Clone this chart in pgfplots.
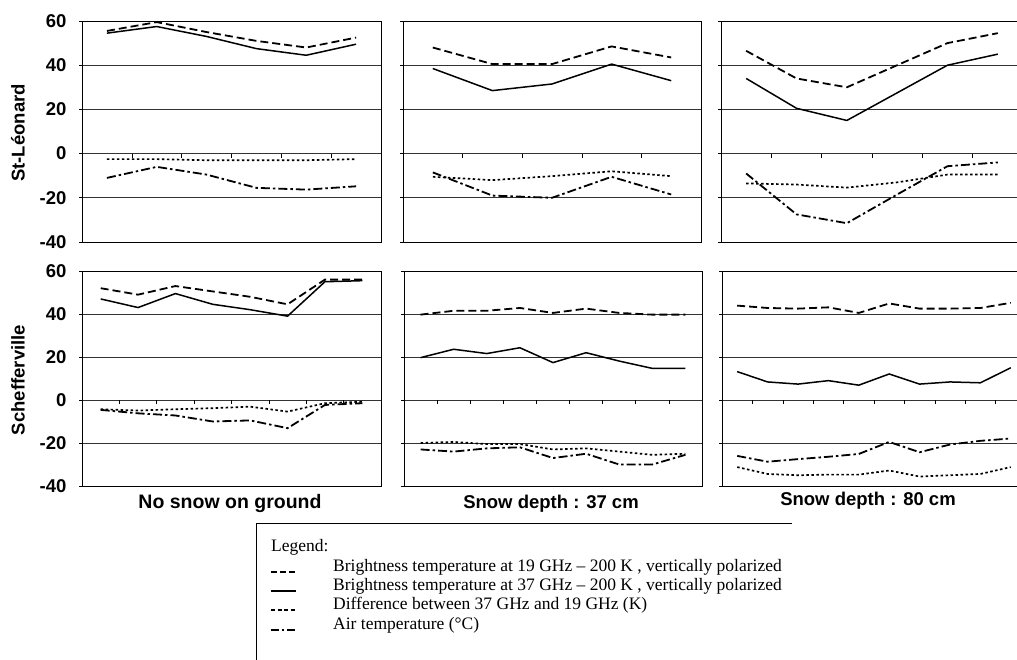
\documentclass[border=0pt]{standalone}
\usepackage{fontspec}
\setmainfont{Liberation Sans}
\newfontfamily\legfont[Ligatures=TeX]{Liberation Serif}
\usepackage{pgfplots}
\pgfplotsset{compat=1.18}
\tikzset{zt/.style={black, line width=0.6pt}}

\pgfplotsset{
  panel/.style={
    scale only axis,
    ymin=-40, ymax=60,
    ytick={-40,-20,0,20,40,60},
    yticklabels={},
    ymajorgrids,
    grid style={black!80, line width=0.6pt},
    xtick=\empty,
    axis line style={black, line width=0.7pt},
    tick style={black, line width=0.6pt},
    ytick pos=left,
    tick align=outside,
    major tick length=3pt,
    clip=false,
  },
  lefty/.style={
    yticklabels={-40,-20,0,20,40,60},
    yticklabel style={font=\fontsize{18.5}{20}\selectfont\bfseries, xshift=-9pt},
  },
  s19/.style={black, line width=1.8pt, dash pattern=on 8pt off 4pt},
  s37/.style={black, line width=1.5pt},
  sdiff/.style={black, line width=1.7pt, dash pattern=on 2.5pt off 2.5pt},
  sair/.style={black, line width=1.8pt, dash pattern=on 9pt off 3pt on 2.5pt off 3pt},
}

\begin{document}
\begin{tikzpicture}
\useasboundingbox (0,0) rectangle (1017pt,659pt);

% ---------- St-Leonard, no snow ----------
\begin{axis}[panel, lefty, at={(82pt,417pt)}, anchor=south west,
  width=299pt, height=221pt, xmin=0.5, xmax=6.5]
\addplot[s19] coordinates {(1,55.5) (2,59.5) (3,55) (4,51) (5,48) (6,52.5)};
\addplot[s37] coordinates {(1,54.5) (2,57.5) (3,53) (4,47.5) (5,44.5) (6,49.5)};
\addplot[sdiff] coordinates {(1,-2.5) (2,-2.5) (3,-3) (4,-3) (5,-3) (6,-2.5)};
\addplot[sair] coordinates {(1,-11) (2,-6) (3,-9.5) (4,-15.5) (5,-16.3) (6,-14.8)};
\pgfplotsinvokeforeach{1.5,2.5,3.5,4.5,5.5}{\draw[zt] (axis cs:#1,0) -- (axis cs:#1,-1.8);}
\end{axis}

% ---------- St-Leonard, 37 cm ----------
\begin{axis}[panel, at={(403pt,417pt)}, anchor=south west,
  width=298pt, height=221pt, xmin=0.5, xmax=5.5]
\addplot[s19] coordinates {(1,48) (2,40.5) (3,40.5) (4,48.5) (5,43.5)};
\addplot[s37] coordinates {(1,38.5) (2,28.5) (3,31.5) (4,40.5) (5,33)};
\addplot[sdiff] coordinates {(1,-10.5) (2,-12) (3,-10.2) (4,-8) (5,-10.2)};
\addplot[sair] coordinates {(1,-8.5) (2,-19) (3,-20) (4,-10.5) (5,-18.5)};
\pgfplotsinvokeforeach{1.5,2.5,3.5,4.5}{\draw[zt] (axis cs:#1,0) -- (axis cs:#1,-1.8);}
\end{axis}

% ---------- St-Leonard, 80 cm ----------
\begin{axis}[panel, at={(721pt,417pt)}, anchor=south west,
  width=302pt, height=221pt, xmin=0.5, xmax=6.5]
\addplot[s19] coordinates {(1,46.5) (2,34) (3,30) (4,40) (5,50) (6,54.5)};
\addplot[s37] coordinates {(1,34) (2,20.5) (3,15) (4,27.5) (5,40) (6,45)};
\addplot[sdiff] coordinates {(1,-13.5) (2,-14) (3,-15.4) (4,-13) (5,-9.5) (6,-9.5)};
\addplot[sair] coordinates {(1,-9) (2,-27.5) (3,-31.5) (4,-18.5) (5,-5.7) (6,-4)};
\pgfplotsinvokeforeach{1.5,2.5,3.5,4.5,5.5}{\draw[zt] (axis cs:#1,0) -- (axis cs:#1,-1.8);}
\end{axis}

% ---------- Schefferville, no snow ----------
\begin{axis}[panel, lefty, at={(82pt,173pt)}, anchor=south west,
  width=299pt, height=215pt, xmin=0.5, xmax=8.5]
\addplot[s19] coordinates {(1,52) (2,49) (3,53) (4,50.5) (5,48) (6,44.5) (7,56) (8,56)};
\addplot[s37] coordinates {(1,47) (2,43) (3,49.5) (4,44.5) (5,42) (6,39) (7,55) (8,55.5)};
\addplot[sdiff] coordinates {(1,-4.3) (2,-4.9) (3,-4.3) (4,-3.8) (5,-3.1) (6,-5.4) (7,-1.5) (8,-0.8)};
\addplot[sair] coordinates {(1,-4.6) (2,-6.2) (3,-7.2) (4,-10) (5,-9.5) (6,-13.1) (7,-2.3) (8,-1.5)};
\pgfplotsinvokeforeach{1.5,2.5,3.5,4.5,5.5,6.5,7.5}{\draw[zt] (axis cs:#1,0) -- (axis cs:#1,-1.8);}
\end{axis}

% ---------- Schefferville, 37 cm ----------
\begin{axis}[panel, at={(404pt,173pt)}, anchor=south west,
  width=298pt, height=215pt, xmin=0.5, xmax=9.5]
\addplot[s19] coordinates {(1,39.7) (2,41.5) (3,41.5) (4,42.8) (5,40.5) (6,42.5) (7,40.5) (8,39.7) (9,39.7)};
\addplot[s37] coordinates {(1,19.7) (2,23.6) (3,21.6) (4,24.3) (5,17.4) (6,22) (7,18.1) (8,14.7) (9,14.7)};
\addplot[sdiff] coordinates {(1,-20) (2,-19.5) (3,-20.5) (4,-20.5) (5,-23) (6,-22.5) (7,-24) (8,-25.5) (9,-25)};
\addplot[sair] coordinates {(1,-23) (2,-24) (3,-22.5) (4,-22) (5,-27) (6,-25) (7,-30) (8,-30) (9,-25.5)};
\pgfplotsinvokeforeach{1.5,2.5,3.5,4.5,5.5,6.5,7.5,8.5}{\draw[zt] (axis cs:#1,0) -- (axis cs:#1,-1.8);}
\end{axis}

% ---------- Schefferville, 80 cm ----------
\begin{axis}[panel, at={(722pt,173pt)}, anchor=south west,
  width=304pt, height=215pt, xmin=0.5, xmax=10.5]
\addplot[s19] coordinates {(1,43.9) (2,42.8) (3,42.5) (4,43.1) (5,40.5) (6,44.9) (7,42.5) (8,42.5) (9,42.8) (10,45.2)};
\addplot[s37] coordinates {(1,13.2) (2,8.4) (3,7.4) (4,9) (5,6.9) (6,12.1) (7,7.4) (8,8.4) (9,8) (10,15)};
\addplot[sdiff] coordinates {(1,-31.2) (2,-34.4) (3,-35) (4,-34.7) (5,-34.7) (6,-32.8) (7,-35.6) (8,-35) (9,-34.4) (10,-31.2)};
\addplot[sair] coordinates {(1,-26) (2,-28.7) (3,-27.5) (4,-26.4) (5,-25.1) (6,-19.5) (7,-24.3) (8,-20.7) (9,-19) (10,-17.9)};
\pgfplotsinvokeforeach{1.5,2.5,3.5,4.5,5.5,6.5,7.5,8.5,9.5}{\draw[zt] (axis cs:#1,0) -- (axis cs:#1,-1.8);}
\end{axis}

% ---------- row and column labels ----------
\node[rotate=90, font=\fontsize{18.5}{20}\selectfont\bfseries] at (18pt,526pt) {St-Léonard};
\node[rotate=90, font=\fontsize{18.5}{20}\selectfont\bfseries] at (18pt,279pt) {Schefferville};
\node[font=\fontsize{19.5}{22}\selectfont\bfseries] at (230pt,155pt) {No snow on ground};
\node[font=\fontsize{18.5}{22}\selectfont\bfseries] at (551pt,155pt) {Snow depth : 37 cm};
\node[font=\fontsize{18.5}{22}\selectfont\bfseries] at (868pt,158pt) {Snow depth : 80 cm};

% ---------- legend ----------
\draw[line width=0.8pt] (256pt,-5pt) -- (256pt,136pt) -- (792pt,136pt);
\begin{scope}[every node/.style={anchor=base west, inner sep=0pt, font=\legfont\fontsize{17.5}{20}\selectfont}]
\node at (271pt,108pt) {Legend:};
\node at (333pt,88pt) {Brightness temperature at 19 GHz – 200 K , vertically polarized};
\node at (333pt,69pt) {Brightness temperature at 37 GHz – 200 K , vertically polarized};
\node at (333pt,50pt) {Difference between 37 GHz and 19 GHz (K)};
\node at (333pt,30pt) {Air temperature (°C)};
\end{scope}
\draw[black, line width=1.3pt, dash pattern=on 6pt off 3pt] (271pt,87pt) -- (296pt,87pt);
\draw[black, line width=1.1pt] (271pt,68pt) -- (296pt,68pt);
\draw[black, line width=1.1pt, dash pattern=on 4pt off 2.5pt] (271pt,49pt) -- (296pt,49pt);
\draw[black, line width=1.1pt, dash pattern=on 8pt off 3pt on 2pt off 3pt] (271pt,29pt) -- (296pt,29pt);
\end{tikzpicture}
\end{document}
